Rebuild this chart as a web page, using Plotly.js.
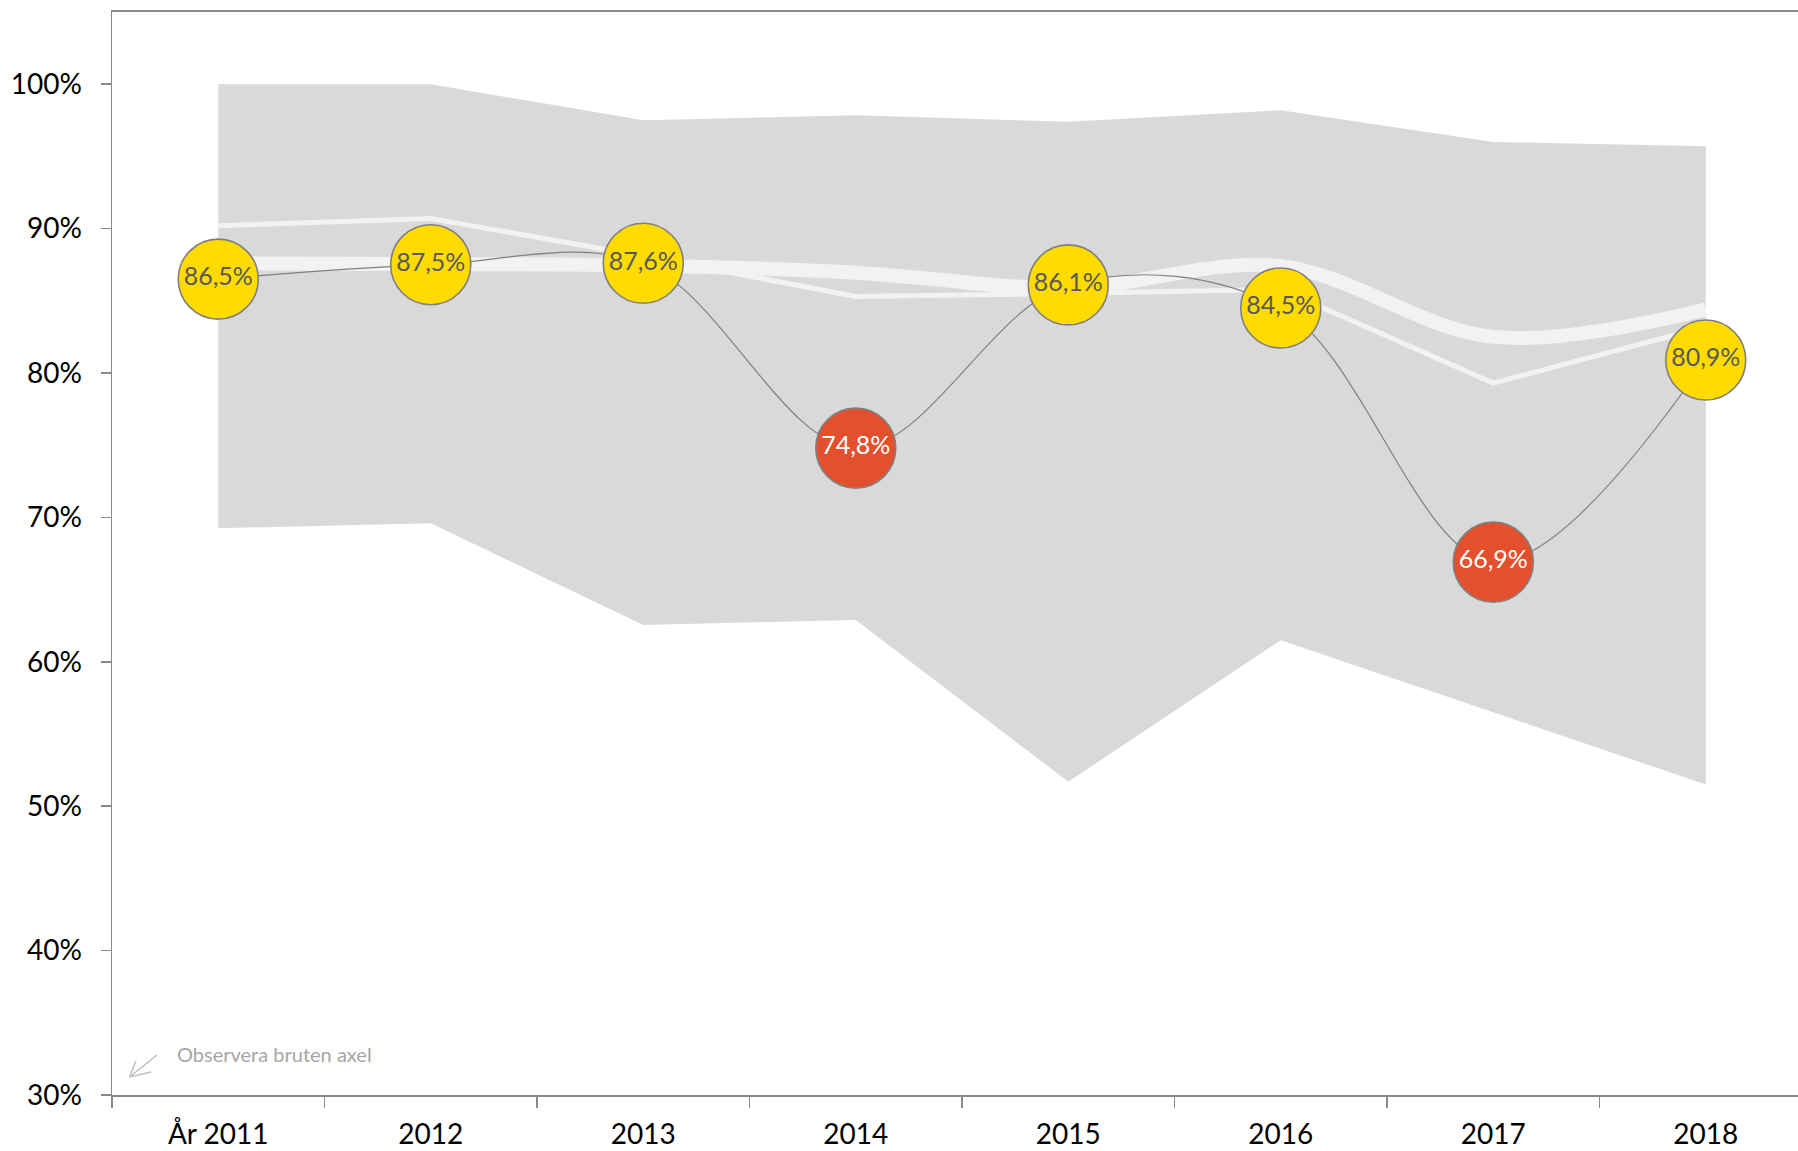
<!DOCTYPE html>
<html>
<head>
<meta charset="utf-8">
<script src="https://cdn.plot.ly/plotly-3.0.1.min.js"></script>
<style>
  html, body { margin: 0; padding: 0; background: #ffffff; }
  #chart { width: 1798px; height: 1151px; }
</style>
</head>
<body>
<div id="chart"></div>
<script>
// ---- data ----
const years = ['År 2011', '2012', '2013', '2014', '2015', '2016', '2017', '2018'];
const result = [86.5, 87.5, 87.6, 74.8, 86.1, 84.5, 66.9, 80.9];
const rangeMax = [100, 100, 97.5, 97.85, 97.4, 98.2, 96.0, 95.7];
const rangeMin = [69.25, 69.6, 62.55, 62.9, 51.7, 61.5, 56.5, 51.5];
const refLineThin = [90.2, 90.7, 88.1, 85.3, 85.5, 85.8, 79.3, 83.2];
const refLineThick = [87.6, 87.55, 87.45, 86.95, 85.9, 87.4, 82.5, 84.4];
const yTickVals = [30, 40, 50, 60, 70, 80, 90, 100];
const lowLimit = 80;

const fmt = v => v.toFixed(1).replace('.', ',') + '%';
const markerColors = result.map(v => v < lowLimit ? '#E4502D' : '#FFDB00');
const textColors = result.map(v => v < lowLimit ? '#FFFFFF' : '#595959');

const traces = [
  { x: years, y: rangeMin, type: 'scatter', mode: 'lines',
    line: { width: 0, color: '#D9D9D9' }, hoverinfo: 'skip', showlegend: false },
  { x: years, y: rangeMax, type: 'scatter', mode: 'lines', fill: 'tonexty',
    fillcolor: '#D9D9D9', line: { width: 0, color: '#D9D9D9' }, hoverinfo: 'skip', showlegend: false },
  { x: years, y: refLineThin, type: 'scatter', mode: 'lines',
    line: { width: 5, color: '#F2F2F2' }, hoverinfo: 'skip', showlegend: false },
  { x: years, y: refLineThick, type: 'scatter', mode: 'lines',
    line: { width: 14, color: '#F2F2F2', shape: 'spline', smoothing: 1 }, hoverinfo: 'skip', showlegend: false },
  { x: years, y: result, type: 'scatter', mode: 'lines+markers+text',
    line: { width: 1.2, color: '#7F7F7F', shape: 'spline', smoothing: 1 },
    marker: { size: 80, color: markerColors, line: { width: 1.6, color: '#7F7F7F' } },
    text: result.map(fmt), textposition: 'middle center',
    textfont: { family: 'Lato, sans-serif', size: 25, color: textColors },
    showlegend: false }
];

const X = v => (v - 112) / 1686;
const Y = v => (1095 - v) / 1083;
const arrowPath = 'M ' + X(157) + ',' + Y(1055) + ' L ' + X(129.5) + ',' + Y(1077) +
  ' L ' + X(151) + ',' + Y(1072) + ' M ' + X(129.5) + ',' + Y(1077) + ' L ' + X(136) + ',' + Y(1061);

const layout = {
  width: 1798, height: 1151,
  margin: { l: 112, r: 0, t: 12, b: 56, pad: 0 },
  paper_bgcolor: '#ffffff', plot_bgcolor: '#ffffff',
  font: { family: 'Lato, sans-serif', color: '#000000' },
  showlegend: false,
  xaxis: {
    type: 'category', range: [-0.5, 7.434], tickson: 'boundaries',
    showgrid: false, zeroline: false,
    showline: true, linecolor: '#898989', linewidth: 2, mirror: true,
    ticks: 'outside', ticklen: 11, tickwidth: 1.5, tickcolor: '#898989',
    tickfont: { family: 'Lato, sans-serif', size: 28, color: '#000000' },
    ticklabelstandoff: 13, fixedrange: true
  },
  yaxis: {
    range: [30, 105], tickvals: yTickVals, ticktext: yTickVals.map(v => v + '%'),
    showgrid: false, zeroline: false,
    showline: true, linecolor: '#898989', linewidth: 1.5,
    ticks: 'outside', ticklen: 10, tickwidth: 1.5, tickcolor: '#898989',
    tickfont: { family: 'Lato, sans-serif', size: 28, color: '#000000' },
    ticklabelstandoff: 13, fixedrange: true
  },
  annotations: [{
    xref: 'paper', yref: 'paper', x: X(175), y: Y(1054), xanchor: 'left', yanchor: 'middle',
    text: 'Observera bruten axel', showarrow: false,
    font: { family: 'Lato, sans-serif', size: 20, color: '#A6A6A6' }
  }],
  shapes: [{
    type: 'path', xref: 'paper', yref: 'paper', path: arrowPath,
    line: { color: '#BFBFBF', width: 1.5 }
  }]
};

Plotly.newPlot('chart', traces, layout, { displayModeBar: false, staticPlot: true });
</script>
</body>
</html>
